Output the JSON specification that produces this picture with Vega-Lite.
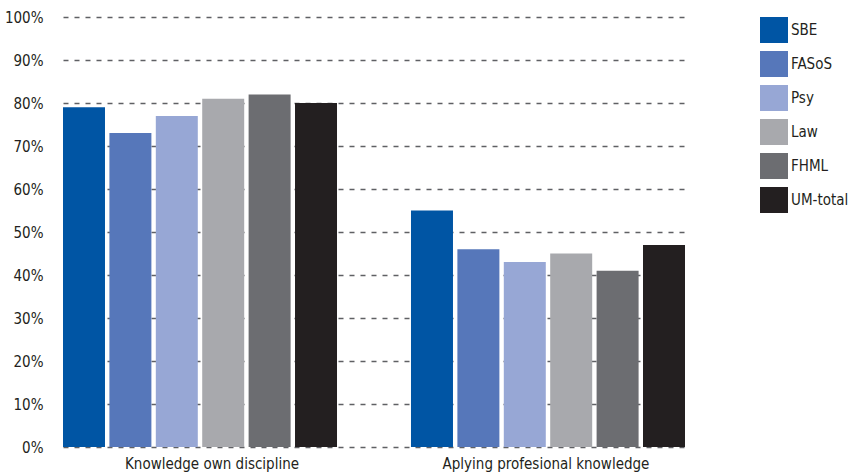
{
  "$schema": "https://vega.github.io/schema/vega-lite/v6.json",
  "autosize": {"type": "none"},
  "padding": {"left": 49, "top": 17, "right": 112, "bottom": 29},
  "width": 696,
  "height": 430,
  "background": "white",
  "config": {
    "view": {"stroke": null},
    "font": "DejaVu Sans Condensed, sans-serif"
  },
  "data": {
    "values": [
      {"skill": "Knowledge own discipline", "faculty": "SBE", "pct": 79},
      {"skill": "Knowledge own discipline", "faculty": "FASoS", "pct": 73},
      {"skill": "Knowledge own discipline", "faculty": "Psy", "pct": 77},
      {"skill": "Knowledge own discipline", "faculty": "Law", "pct": 81},
      {"skill": "Knowledge own discipline", "faculty": "FHML", "pct": 82},
      {"skill": "Knowledge own discipline", "faculty": "UM-total", "pct": 80},
      {"skill": "Aplying profesional knowledge", "faculty": "SBE", "pct": 55},
      {"skill": "Aplying profesional knowledge", "faculty": "FASoS", "pct": 46},
      {"skill": "Aplying profesional knowledge", "faculty": "Psy", "pct": 43},
      {"skill": "Aplying profesional knowledge", "faculty": "Law", "pct": 45},
      {"skill": "Aplying profesional knowledge", "faculty": "FHML", "pct": 41},
      {"skill": "Aplying profesional knowledge", "faculty": "UM-total", "pct": 47}
    ]
  },
  "mark": {"type": "bar", "cornerRadius": 0},
  "encoding": {
    "x": {
      "field": "skill",
      "type": "nominal",
      "sort": ["Knowledge own discipline", "Aplying profesional knowledge"],
      "scale": {"range": [14, 636], "paddingInner": 0.2126, "paddingOuter": 0},
      "axis": {
        "title": null,
        "domain": false,
        "ticks": false,
        "labelAngle": 0,
        "labelPadding": 9,
        "labelFontSize": 15,
        "labelLimit": 0,
        "labelColor": "#231F20",
        "labelOffset": {
          "condition": {"test": "datum.value === 'Knowledge own discipline'", "value": 12},
          "value": -2
        }
      }
    },
    "xOffset": {
      "field": "faculty",
      "type": "nominal",
      "scale": {
        "domain": ["SBE", "FASoS", "Psy", "Law", "FHML", "UM-total"],
        "paddingInner": 0.095,
        "paddingOuter": 0
      }
    },
    "y": {
      "field": "pct",
      "type": "quantitative",
      "scale": {"domain": [0, 100], "nice": false},
      "axis": {
        "title": null,
        "domain": false,
        "ticks": false,
        "values": [0, 10, 20, 30, 40, 50, 60, 70, 80, 90, 100],
        "labelExpr": "datum.value + '%'",
        "labelPadding": 6,
        "labelFontSize": 15,
        "labelColor": "#231F20",
        "grid": true,
        "gridColor": "#5F6064",
        "gridDash": [5, 6],
        "gridWidth": 1.4
      }
    },
    "color": {
      "field": "faculty",
      "type": "nominal",
      "scale": {
        "domain": ["SBE", "FASoS", "Psy", "Law", "FHML", "UM-total"],
        "range": ["#0055A4", "#5677BA", "#97A7D5", "#A8A9AD", "#6C6D71", "#231F20"]
      },
      "legend": {
        "title": null,
        "orient": "none",
        "legendX": 712,
        "legendY": 0,
        "symbolType": "M-1.077,-1H1.077V1H-1.077Z",
        "symbolSize": 676,
        "symbolStrokeWidth": 0,
        "symbolOpacity": 1,
        "rowPadding": 8,
        "labelOffset": 4,
        "labelFontSize": 15,
        "labelColor": "#231F20"
      }
    }
  }
}
